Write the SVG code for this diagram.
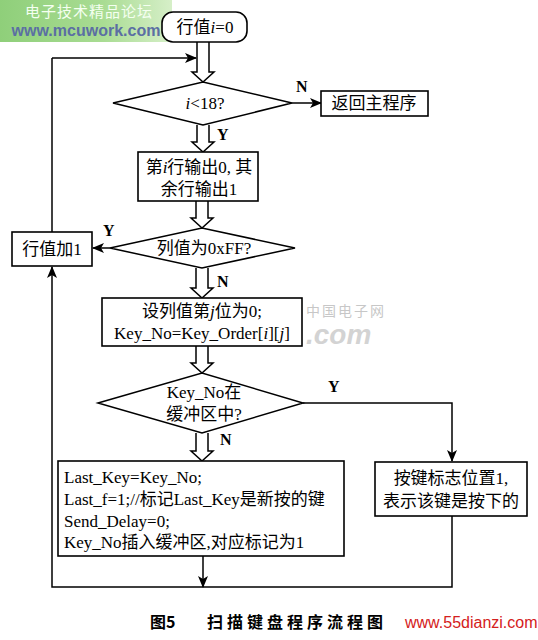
<svg xmlns="http://www.w3.org/2000/svg" width="538" height="640" viewBox="0 0 538 640">
<defs>
<linearGradient id="wm" x1="0" y1="0" x2="1" y2="0">
<stop offset="0" stop-color="#8fcf7a"/>
<stop offset="0.6" stop-color="#a9dc93"/>
<stop offset="1" stop-color="#d6efc8"/>
</linearGradient>
<marker id="ah" markerWidth="12" markerHeight="10" refX="11" refY="5" orient="auto" markerUnits="userSpaceOnUse">
<path d="M0,0 L12,5 L0,10 L3,5 Z" fill="#000"/>
</marker>
</defs>
<style>
.box{fill:#fff;stroke:#000;stroke-width:1.6}
.dia{fill:#fff;stroke:#000;stroke-width:1.5}
.hol{fill:#fff;stroke:#000;stroke-width:1.5}
.ln{fill:none;stroke:#000;stroke-width:1.5}
.t{font-family:"Liberation Serif","Noto Sans CJK SC",serif;font-size:17px;fill:#000}
.c{text-anchor:middle}
.lb{font-family:"Liberation Serif","Noto Sans CJK SC",serif;font-size:16px;font-weight:bold;fill:#000}
</style>
<rect width="538" height="640" fill="#fff"/>

<!-- watermark top-left -->
<g id="watermark-top">
<rect x="0" y="0" width="172" height="42" fill="url(#wm)"/>
<text x="89" y="17" text-anchor="middle" font-family="'Noto Sans CJK SC',sans-serif" font-size="15" fill="#f4fff0" letter-spacing="1">电子技术精品论坛</text>
<text x="86" y="36" text-anchor="middle" font-family="'Liberation Sans',sans-serif" font-size="16" font-weight="bold" fill="#5b6fa3">www.mcuwork.com</text>
</g>

<!-- watermark middle -->
<g id="watermark-mid" opacity="0.55">
<text x="306" y="316" font-family="'Noto Sans CJK SC',sans-serif" font-size="14" fill="#9a9a9a" letter-spacing="2">中国电子网</text>
<text x="306" y="344" font-family="'Liberation Sans',sans-serif" font-size="28" font-weight="bold" font-style="italic" fill="#b0b0b0">.com</text>
</g>

<g id="connectors">
<!-- start to diamond1 -->
<path class="hol" d="M197,42 V72 H192 L203,82 L214,72 H209 V42"/>
<!-- loop back top -->
<line class="ln" x1="52" y1="58" x2="196" y2="58" marker-end="url(#ah)"/>
<line class="ln" x1="52" y1="58" x2="52" y2="232"/>
<!-- N to return -->
<line class="ln" x1="292" y1="103" x2="321" y2="103" marker-end="url(#ah)"/>
<text class="lb" x="296" y="92">N</text>
<!-- Y diamond1 to box2 -->
<path class="hol" d="M197,125 V142 H192 L203,152 L214,142 H209 V125"/>
<text class="lb" x="217" y="140">Y</text>
<!-- box2 to diamond2 -->
<path class="hol" d="M196,201 V218 H191 L202,228 L213,218 H208 V201"/>
<!-- Y diamond2 to row+1 -->
<line class="ln" x1="110" y1="248" x2="93" y2="248" marker-end="url(#ah)"/>
<text class="lb" x="103" y="236">Y</text>
<!-- N diamond2 to box3 -->
<path class="hol" d="M196,268 V288 H191 L202,298 L213,288 H208 V268"/>
<text class="lb" x="217" y="287">N</text>
<!-- box3 to diamond3 -->
<path class="hol" d="M196,346 V363 H191 L202,373 L213,363 H208 V346"/>
<!-- Y diamond3 to box5 -->
<polyline class="ln" points="303,403 452,403 452,461" marker-end="url(#ah)"/>
<text class="lb" x="328" y="392">Y</text>
<!-- N diamond3 to box4 -->
<path class="hol" d="M196,433 V451 H191 L202,461 L213,451 H208 V433"/>
<text class="lb" x="220" y="445">N</text>
<!-- box4 bottom -->
<line class="ln" x1="203" y1="556" x2="203" y2="587" marker-end="url(#ah)"/>
<!-- box5 bottom and loop -->
<polyline class="ln" points="452,516 452,587 52,587 52,267" marker-end="url(#ah)"/>
</g>

<g id="start">
<rect class="box" x="162" y="12" width="85" height="30" rx="11"/>
<text class="t c" x="205" y="33">行值<tspan font-style="italic">i</tspan>=0</text>
</g>

<g id="cond-i">
<polygon class="dia" points="113,103 203,82 292,103 203,125"/>
<text class="t c" x="205" y="109"><tspan font-style="italic">i</tspan>&lt;18?</text>
</g>

<g id="return">
<rect class="box" x="321" y="91" width="107" height="25"/>
<text class="t c" x="374" y="109">返回主程序</text>
</g>

<g id="row-output">
<rect class="box" x="138" y="152" width="120" height="49"/>
<text class="t c" x="199" y="173">第<tspan font-style="italic">i</tspan>行输出0, 其</text>
<text class="t c" x="199" y="195">余行输出1</text>
</g>

<g id="cond-ff">
<polygon class="dia" points="110,248 202,228 295,248 202,268"/>
<text class="t c" x="204" y="254">列值为0xFF?</text>
</g>

<g id="row-inc">
<rect class="box" x="12" y="232" width="80" height="34"/>
<text class="t c" x="52" y="255">行值加1</text>
</g>

<g id="set-col">
<rect class="box" x="102" y="298" width="200" height="48"/>
<text class="t c" x="202" y="317">设列值第<tspan font-style="italic">j</tspan>位为0;</text>
<text class="t c" x="202" y="339">Key_No=Key_Order[<tspan font-style="italic">i</tspan>][<tspan font-style="italic">j</tspan>]</text>
</g>

<g id="cond-buf">
<polygon class="dia" points="98,403 202,373 303,403 202,433"/>
<text class="t c" x="204" y="398">Key_No在</text>
<text class="t c" x="204" y="420">缓冲区中?</text>
</g>

<g id="insert">
<rect class="box" x="58" y="461" width="286" height="95"/>
<text class="t" x="64" y="483">Last_Key=Key_No;</text>
<text class="t" x="64" y="505">Last_f=1;//标记Last_Key是新按的键</text>
<text class="t" x="64" y="527">Send_Delay=0;</text>
<text class="t" x="64" y="548">Key_No插入缓冲区,对应标记为1</text>
</g>

<g id="flag">
<rect class="box" x="375" y="462" width="152" height="54"/>
<text class="t c" x="451" y="484">按键标志位置1,</text>
<text class="t c" x="451" y="507">表示该键是按下的</text>
</g>

<g id="caption">
<text x="150" y="628" font-family="'Noto Sans CJK SC',sans-serif" font-size="16" font-weight="bold" fill="#000">图5</text>
<text x="207" y="628" font-family="'Noto Sans CJK SC',sans-serif" font-size="16" font-weight="bold" fill="#000" letter-spacing="4">扫描键盘程序流程图</text>
<text x="405" y="628" font-family="'Liberation Sans',sans-serif" font-size="16" fill="#d42020">www.55dianzi.com</text>
</g>
</svg>
